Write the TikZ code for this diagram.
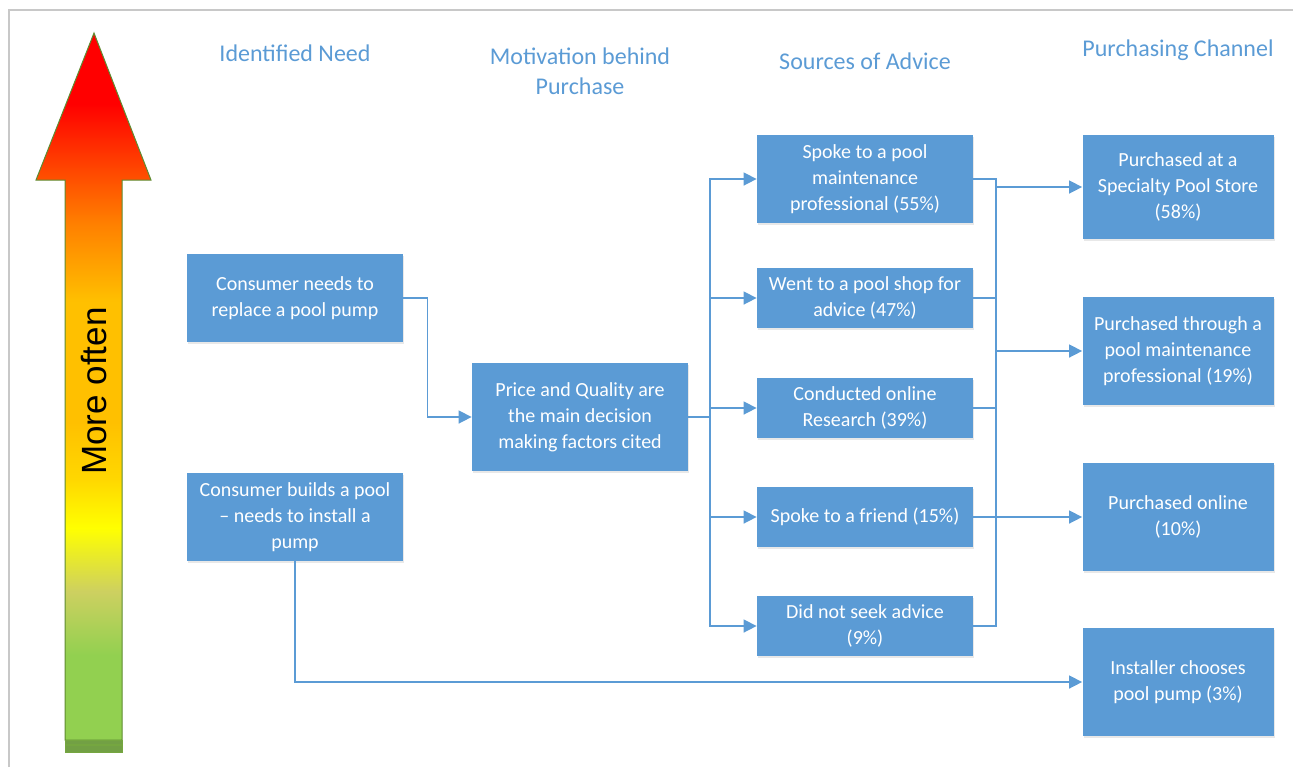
\documentclass[tikz,border=0pt]{standalone}
\usepackage{fontspec}
\setmainfont{Carlito}
\newfontfamily\arrowfont{Liberation Sans}
\usetikzlibrary{arrows.meta,shadows}
\definecolor{boxblue}{HTML}{5B9BD5}
\definecolor{headblue}{HTML}{5B9BD5}
\definecolor{lineblue}{HTML}{5B9BD5}
\definecolor{framegray}{HTML}{C8C8C8}
\definecolor{ofgreen}{HTML}{92D050}
\definecolor{ofkhaki}{HTML}{CDD060}
\definecolor{ofyellow}{HTML}{FFFF00}
\definecolor{ofgold}{HTML}{FFD700}
\definecolor{oforange}{HTML}{FFC000}
\definecolor{ofdark}{HTML}{FF8000}
\definecolor{ofred}{HTML}{FF0000}
\definecolor{ofedge}{HTML}{5E8C31}
\definecolor{ofbase}{HTML}{72A044}
\pgfdeclareverticalshading{oftenshade}{100bp}{color(0bp)=(ofgreen); color(31bp)=(ofgreen);
  color(35.5bp)=(ofkhaki); color(40bp)=(ofyellow); color(43.5bp)=(ofgold);
  color(47.5bp)=(oforange); color(56bp)=(oforange); color(61.5bp)=(ofdark);
  color(70bp)=(ofred); color(100bp)=(ofred)}
\tikzset{
  stagebox/.style={rectangle, fill=boxblue, text=white, align=center, inner sep=0pt,
    font=\fontsize{10}{13}\selectfont, minimum width=108pt, minimum height=44pt,
    drop shadow={shadow xshift=0.5pt, shadow yshift=-1pt, opacity=0.18}},
  heading/.style={text=headblue, align=center, font=\fontsize{12}{15}\selectfont},
  flow/.style={draw=lineblue, line width=0.75pt, -{Triangle[length=6.5pt, width=6.5pt]}},
  joint/.style={draw=lineblue, line width=0.75pt},
}

\begin{document}
\begin{tikzpicture}[x=0.5pt, y=-0.5pt]
  \useasboundingbox (0,0) rectangle (1293,767);

  % Frame
  \draw[framegray, line width=1pt] (9,767) -- (9,10) -- (1293,10);

  % Frequency arrow
  \shadedraw[shading=oftenshade, draw=ofedge, line width=0.5pt]
    (65,740) -- (65,180) -- (36,180) -- (94,33) -- (151,180) -- (122,180) -- (122,740) -- cycle;
  \draw[fill=ofbase, draw=ofgreen!80!black, line width=0.3pt] (65,740) rectangle (122,744);
  \draw[fill=ofbase, draw=ofgreen!80!black, line width=0.3pt] (65,745) rectangle (122,752);
  \node[rotate=90, font=\arrowfont\fontsize{17.5}{20}\selectfont] (often) at (94,391) {More often};

  % Column headings
  \node[heading] (hneed) at (295,53) {Identified Need};
  \node[heading] (hmotive) at (580,71) {Motivation behind\\Purchase};
  \node[heading] (hsource) at (865,61) {Sources of Advice};
  \node[heading] (hchannel) at (1178,50) {Purchasing Channel};

  % Identified need
  \node[stagebox] (need1) at (295,298) {Consumer needs to\\replace a pool pump};
  \node[stagebox] (need2) at (295,517) {Consumer builds a pool\\– needs to install a\\pump};

  % Motivation
  \node[stagebox, minimum height=54pt] (motive) at (580,417) {Price and Quality are\\the main decision\\making factors cited};

  % Sources of advice
  \node[stagebox] (src1) at (865,179) {Spoke to a pool\\maintenance\\professional (55\%)};
  \node[stagebox, minimum height=30pt] (src2) at (865,298) {Went to a pool shop for\\advice (47\%)};
  \node[stagebox, minimum height=30pt] (src3) at (865,408) {Conducted online\\Research (39\%)};
  \node[stagebox, minimum height=30pt] (src4) at (865,517) {Spoke to a friend (15\%)};
  \node[stagebox, minimum height=30pt] (src5) at (865,626) {Did not seek advice\\(9\%)};

  % Purchasing channel
  \node[stagebox, minimum width=95.5pt, minimum height=52pt] (ch1) at (1178,187) {Purchased at a\\Specialty Pool Store\\(58\%)};
  \node[stagebox, minimum width=95.5pt, minimum height=54pt] (ch2) at (1178,351) {Purchased through a\\pool maintenance\\professional (19\%)};
  \node[stagebox, minimum width=95.5pt, minimum height=54pt] (ch3) at (1178,517) {Purchased online\\(10\%)};
  \node[stagebox, minimum width=95.5pt, minimum height=54pt] (ch4) at (1178,682) {Installer chooses\\pool pump (3\%)};

  % Connectors
  \coordinate (busL) at (710,417);
  \coordinate (busR) at (996,351);
  \draw[flow] (need1.east) -- ++(24,0) |- (motive.west);
  \draw[joint] (motive.east) -- (busL);
  \foreach \s in {src1,src2,src3,src4,src5} {
    \draw[flow] (busL) |- (\s.west);
    \draw[joint] (\s.east) -| (busR);
  }
  \foreach \c in {ch1,ch2,ch3} {
    \draw[flow] (busR) |- (\c.west);
  }
  \draw[flow] (need2.south) |- (ch4.west);

\end{tikzpicture}
\end{document}
